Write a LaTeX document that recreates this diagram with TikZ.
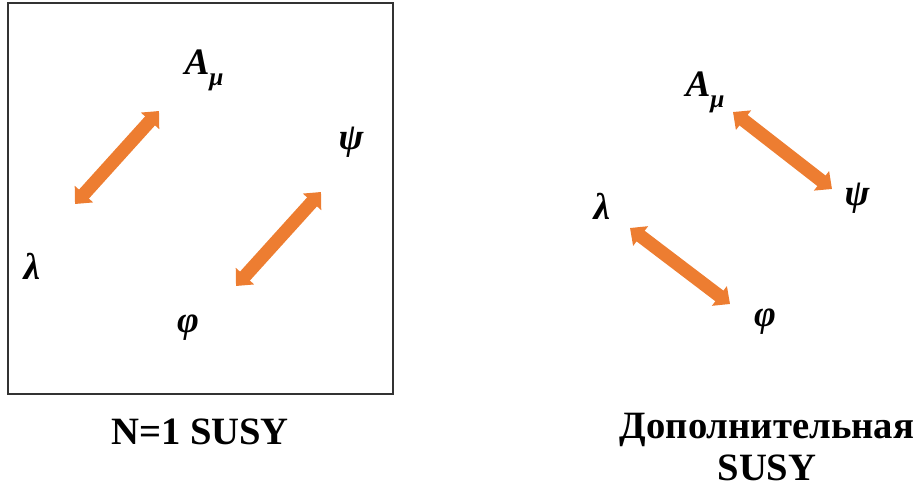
\documentclass[tikz,border=0pt]{standalone}
\usepackage{fontspec}
\setmainfont{Liberation Serif}
\usetikzlibrary{arrows.meta}
\definecolor{susyorange}{HTML}{ED7D31}
\newcommand{\fieldsub}[1]{\raisebox{-0.3em}{\fontsize{19}{19}\selectfont #1}}
\tikzset{
  field/.style={font=\fontsize{28}{30}\selectfont\bfseries\itshape, inner sep=0pt},
  caption/.style={font=\fontsize{29}{32}\selectfont\bfseries, align=center, inner sep=0pt},
  pairing/.style={draw=susyorange, line width=10pt,
    {Triangle[length=10pt,width=18pt]}-{Triangle[length=10pt,width=18pt]}},
  frame/.style={draw=black!80, line width=1.1pt}
}
\begin{document}
\begin{tikzpicture}[x=0.75pt,y=-0.75pt]
\useasboundingbox (0,0) rectangle (920,493);

% N=1 multiplets inside the frame
\draw[frame] (8,3) rectangle (393,394);
\node[field] (A1) at (204,70) {A\fieldsub{μ}};
\node[field] (l1) at (32,266) {λ};
\node[field] (p1) at (351,142) {ψ};
\node[field] (f1) at (188,328) {φ};
\coordinate (a1s) at (75,204);
\coordinate (a1e) at (159,111);
\coordinate (a2s) at (236,286);
\coordinate (a2e) at (321,192);
\draw[pairing] (a1s) -- (a1e);
\draw[pairing] (a2s) -- (a2e);
\node[caption] (c1) at (200,432) {N=1 SUSY};

% extra supersymmetry pairings
\node[field] (A2) at (705,92) {A\fieldsub{μ}};
\node[field] (p2) at (857,198) {ψ};
\node[field] (l2) at (602,206) {λ};
\node[field] (f2) at (765,322) {φ};
\coordinate (b1s) at (733,112);
\coordinate (b1e) at (832,189);
\coordinate (b2s) at (630,228);
\coordinate (b2e) at (730,304);
\draw[pairing] (b1s) -- (b1e);
\draw[pairing] (b2s) -- (b2e);
\node[caption] (c2) at (767,447) {Дополнительная\\SUSY};
\end{tikzpicture}
\end{document}
